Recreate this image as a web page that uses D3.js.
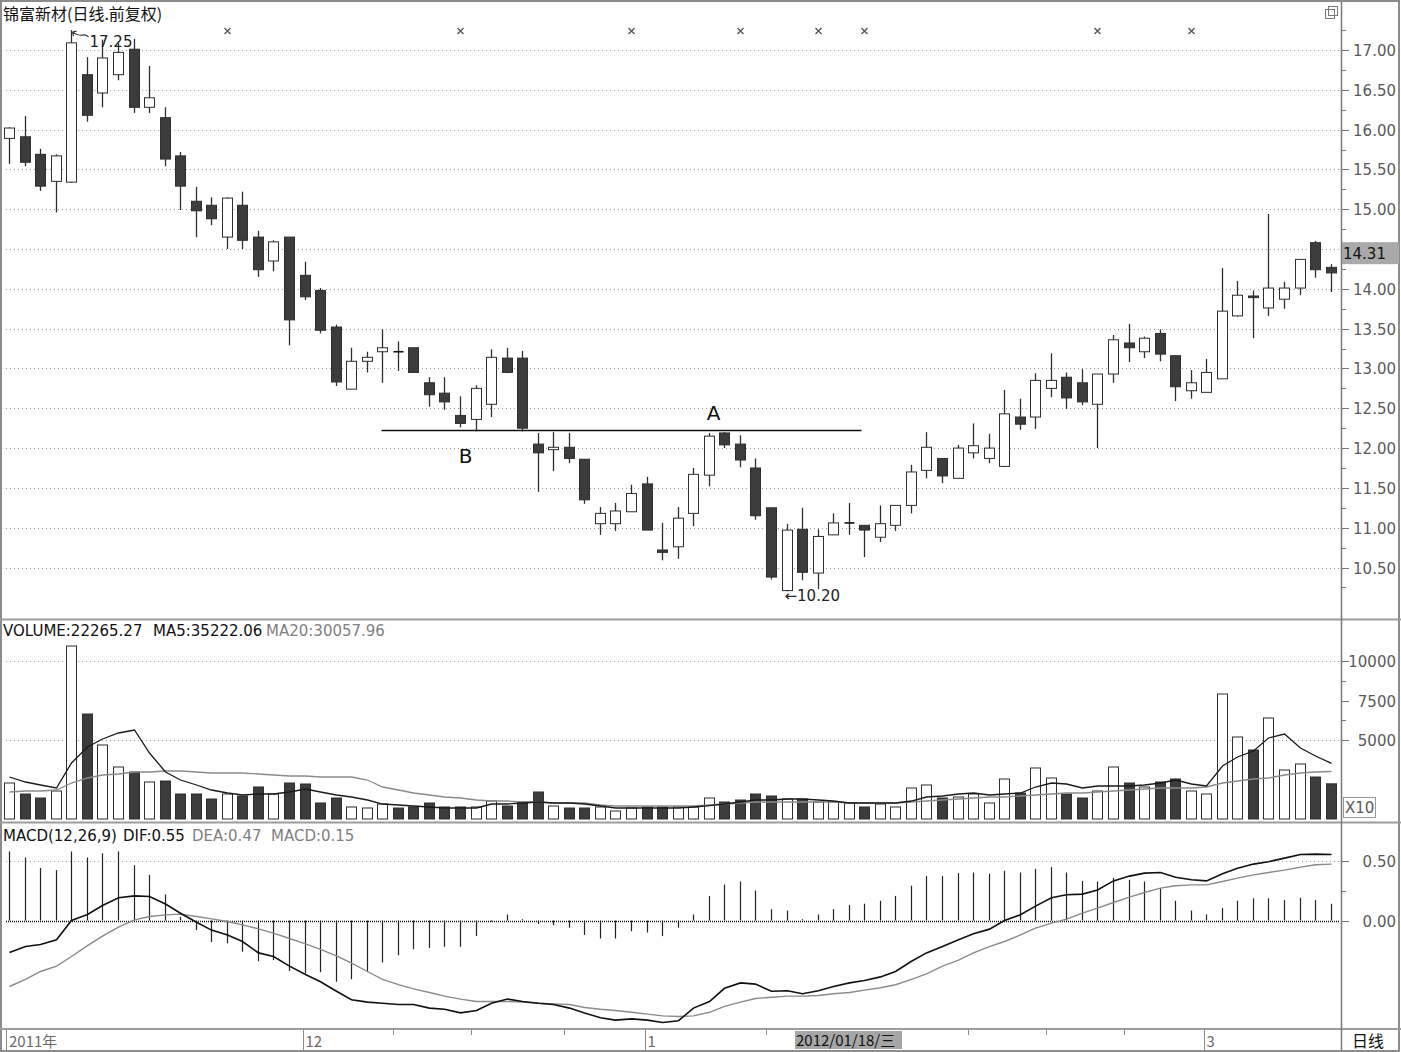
<!DOCTYPE html>
<html>
<head>
<meta charset="utf-8">
<title>锦富新材 日线</title>
<script src="https://d3js.org/d3.v7.min.js"></script>
<style>
  body { margin: 0; background: #fff; }
  svg text { font-family: "DejaVu Sans", "Liberation Sans", sans-serif; }
  svg text.cjk { font-family: "Noto Sans CJK SC", sans-serif; }
</style>
</head>
<body>
<div id="chart"></div>
<script>
// ---- data (86 trading days, Nov 2011 - Mar 2012) ----
var opens  = [15.89,15.91,15.69,15.35,15.34,16.69,16.46,16.69,17.01,16.28,16.15,15.67,15.10,15.05,14.65,15.05,14.65,14.35,14.65,14.17,
              13.98,13.52,12.74,13.09,13.21,13.21,13.26,12.82,12.69,12.41,12.36,12.55,13.13,13.13,12.05,11.98,12.01,11.86,11.05,11.05,
              11.20,11.55,10.72,10.76,11.18,11.66,12.19,12.05,11.75,11.25,10.21,10.98,10.43,10.91,11.06,11.03,10.88,11.03,11.28,11.72,
              11.87,11.62,11.94,11.87,11.77,12.39,12.39,12.75,12.89,12.82,12.55,12.93,13.32,13.21,13.44,13.16,12.72,12.70,12.87,13.66,
              13.91,13.76,13.87,14.01,14.58,14.27];
var highs  = [16.03,16.17,15.76,15.69,17.25,16.91,17.13,17.09,17.14,16.80,16.28,15.72,15.28,15.15,15.15,15.22,14.73,14.61,14.65,14.34,
              14.01,13.55,13.26,13.21,13.49,13.34,13.26,12.89,12.89,12.65,12.79,13.24,13.26,13.22,12.19,12.20,12.19,11.86,11.26,11.31,
              11.54,11.64,11.06,11.26,11.75,12.19,12.20,12.16,11.87,11.25,11.05,11.25,10.98,11.18,11.31,11.03,11.28,11.28,11.79,12.20,
              11.87,12.04,12.31,12.18,12.73,12.62,12.94,13.19,12.95,12.99,12.93,13.42,13.56,13.40,13.49,13.16,12.98,13.12,14.26,14.10,
              13.98,14.94,14.09,14.37,14.60,14.31];
var lows   = [15.57,15.54,15.23,14.96,15.33,16.10,16.28,16.62,16.21,16.21,15.54,14.99,14.65,14.80,14.50,14.50,14.15,14.22,13.29,13.86,
              13.44,12.78,12.74,12.95,12.82,12.97,12.95,12.52,12.48,12.26,12.21,12.39,12.94,12.21,11.45,11.71,11.81,11.30,10.91,10.96,
              11.20,10.97,10.59,10.61,11.02,11.52,12.00,11.76,11.10,10.35,10.20,10.34,10.23,10.91,10.91,10.63,10.82,10.96,11.18,11.62,
              11.56,11.62,11.87,11.81,11.76,12.23,12.24,12.64,12.49,12.54,12.00,12.82,13.08,13.13,13.09,12.59,12.62,12.70,12.87,13.65,
              13.38,13.66,13.75,13.92,14.14,13.96];
var closes = [16.02,15.59,15.29,15.67,17.09,16.18,16.90,16.97,16.28,16.40,15.63,15.29,14.98,14.88,15.14,14.61,14.24,14.59,13.61,13.90,
              13.48,12.83,13.09,13.14,13.26,13.21,12.95,12.67,12.58,12.31,12.75,13.14,12.95,12.25,11.94,12.01,11.87,11.35,11.18,11.21,
              11.43,10.97,10.69,11.12,11.67,12.15,12.04,11.85,11.15,10.38,10.97,10.44,10.89,11.06,11.06,10.97,11.05,11.28,11.70,12.01,
              11.65,12.00,12.03,12.00,12.43,12.30,12.85,12.85,12.63,12.58,12.93,13.36,13.26,13.38,13.18,12.77,12.82,12.95,13.72,13.92,
              13.89,14.01,14.01,14.37,14.24,14.20];

// volume in units of 10 lots (axis says X10)
var volumes = [2278,1582,1329,1772,10949,6646,4684,3291,2975,2342,2405,1582,1582,1266,1582,1456,2025,1582,2278,2215,
               1013,1329,760,696,949,696,760,1013,760,760,760,1139,823,1076,1709,823,696,696,760,506,
               696,760,760,760,760,1329,1076,1202,1582,1456,1266,1266,1076,1076,1013,760,949,760,1962,2152,
               1329,1392,1582,1013,2532,1646,3228,2595,1582,1329,1772,3291,2278,2025,2342,2532,1772,1582,7911,5190,
               4367,6392,3101,3481,2658,2226];
var volMa5  = [2658,2342,2152,1962,3544,4557,5063,5443,5633,4177,2975,2468,2152,1835,1646,1519,1582,1582,1709,1899,
               1709,1519,1392,1202,949,886,823,760,696,696,696,949,949,1013,1076,1013,1013,949,823,696,
               696,696,696,696,760,850,949,1076,1202,1202,1266,1266,1202,1139,1013,1013,1013,1013,1139,1392,
               1456,1582,1646,1519,1582,1646,2025,2278,2215,1962,2089,2089,2089,2152,2278,2468,2215,2089,3354,3924,
               4304,5127,5380,4494,3987,3522];
var volMa20 = [1709,1772,1772,1835,2278,2595,2785,2848,2975,2975,3038,3038,2975,2911,2911,2911,2848,2785,2722,2722,
               2658,2658,2658,2468,2025,1835,1646,1519,1392,1329,1202,1139,1139,1076,1076,1013,1013,1013,886,823,
               823,823,823,823,823,886,949,1013,1076,1076,1076,1076,1076,1076,1013,1013,1013,1013,1076,1139,
               1202,1266,1329,1392,1392,1456,1519,1582,1646,1646,1709,1772,1835,1899,1962,1962,1962,2025,2278,2405,
               2532,2595,2785,2911,2975,3006];

var dif = [-0.267,-0.217,-0.20,-0.16,0.00,0.05,0.125,0.19,0.205,0.20,0.137,0.06,-0.015,-0.08,-0.12,-0.175,-0.27,-0.30,-0.38,-0.45,
           -0.51,-0.59,-0.66,-0.68,-0.69,-0.70,-0.70,-0.73,-0.74,-0.77,-0.75,-0.69,-0.655,-0.675,-0.69,-0.70,-0.73,-0.77,-0.81,-0.83,
           -0.82,-0.83,-0.85,-0.835,-0.73,-0.675,-0.565,-0.52,-0.53,-0.59,-0.585,-0.61,-0.585,-0.55,-0.52,-0.50,-0.47,-0.425,-0.34,-0.27,
           -0.217,-0.16,-0.11,-0.072,0.00,0.048,0.12,0.19,0.215,0.22,0.255,0.33,0.37,0.395,0.40,0.36,0.34,0.33,0.39,0.435,
           0.47,0.49,0.52,0.55,0.553,0.55];
var dea = [-0.55,-0.49,-0.425,-0.38,-0.30,-0.21,-0.13,-0.055,0.005,0.033,0.047,0.053,0.033,0.014,-0.008,-0.036,-0.07,-0.105,-0.15,-0.195,
           -0.24,-0.295,-0.355,-0.425,-0.49,-0.535,-0.57,-0.60,-0.63,-0.655,-0.675,-0.675,-0.675,-0.68,-0.69,-0.695,-0.70,-0.725,-0.74,-0.75,
           -0.765,-0.78,-0.795,-0.80,-0.795,-0.765,-0.715,-0.68,-0.65,-0.64,-0.63,-0.63,-0.625,-0.61,-0.60,-0.58,-0.56,-0.535,-0.49,-0.445,
           -0.38,-0.33,-0.27,-0.217,-0.175,-0.12,-0.063,-0.022,0.012,0.062,0.103,0.15,0.195,0.233,0.27,0.29,0.297,0.297,0.325,0.353,
           0.38,0.40,0.42,0.445,0.465,0.47];
var macdBar = [0.575,0.525,0.437,0.42,0.575,0.525,0.56,0.575,0.46,0.38,0.217,0.03,-0.08,-0.18,-0.19,-0.26,-0.34,-0.33,-0.42,-0.44,
               -0.43,-0.51,-0.49,-0.43,-0.35,-0.29,-0.24,-0.23,-0.22,-0.22,-0.13,-0.01,0.05,0.01,-0.03,-0.04,-0.06,-0.12,-0.15,-0.15,
               -0.09,-0.10,-0.13,-0.06,0.05,0.205,0.30,0.325,0.25,0.095,0.083,0.01,0.05,0.095,0.13,0.14,0.165,0.205,0.29,0.37,
               0.37,0.395,0.40,0.39,0.415,0.40,0.43,0.445,0.40,0.33,0.325,0.355,0.34,0.325,0.27,0.165,0.083,0.05,0.105,0.165,
               0.185,0.185,0.17,0.19,0.17,0.14];

var priceTicks = [10.5,11,11.5,12,12.5,13,13.5,14,14.5,15,15.5,16,16.5,17];
var volTicks = [5000,7500,10000];
var volGrid = [5000,10000];
var macdTicks = [0,0.5];
var monthIdx = [0,19,41,77];
var monthText = ["2011年","12","1","3"];
var weekIdx = [25,30,36,49,62,67,72];
var infoIdx = [14,29,40,47,52,55,70,76];
var lineLevel = 12.23, lineFrom = 24, lineTo = 55;
var cursorIdx = 51, cursorText = "2012/01/18/三";
var lastPrice = 14.31;

// ---- layout ----
var W = 1401, H = 1052;
var plotL = 2, plotR = 1340;
var svg = d3.select("#chart").append("svg").attr("width", W).attr("height", H);

var x = d3.scaleBand().domain(d3.range(opens.length)).range([plotL, 1339])
    .paddingInner(0.28).paddingOuter(0.14);
function bx(i) { return Math.round(x(i)) + 0.5; }
function cx(i) { return Math.round(x(i)) + 5.5; }

var yP = d3.scaleLinear().domain([10.5, 17]).range([567.5, 50]);
var yV = d3.scaleLinear().domain([0, 10000]).range([819, 661]);
var yM = d3.scaleLinear().domain([0, 0.5]).range([920.5, 860.5]);

var dark = "#3c3c3c", edge = "#2e2e2e", gridC = "#9a9a9a", axisTxt = "#5a5a5a";

// frame + panel separators
svg.append("rect").attr("x", 1).attr("y", 1).attr("width", W - 3).attr("height", H - 2)
    .attr("fill", "none").attr("stroke", "#8c8c8c").attr("stroke-width", 2);
[619.5, 822.5, 1029].forEach(function (yy) {
  svg.append("line").attr("x1", 0).attr("x2", W).attr("y1", yy).attr("y2", yy)
    .attr("stroke", "#9c9c9c").attr("stroke-width", 2);
});
svg.append("line").attr("x1", 1341.5).attr("x2", 1341.5).attr("y1", 2).attr("y2", 1050)
    .attr("stroke", "#7a7a7a").attr("stroke-width", 1.5);

// ---- main price panel ----
var gMain = svg.append("g");
gMain.selectAll("line.grid").data(priceTicks).enter().append("line")
  .attr("x1", plotL + 4).attr("x2", plotR).attr("y1", function (d) { return Math.round(yP(d)) + 0.5; })
  .attr("y2", function (d) { return Math.round(yP(d)) + 0.5; })
  .attr("stroke", gridC).attr("stroke-dasharray", "1,3");

// right axis
var minorP = d3.range(10.25, 17.3, 0.5);
gMain.selectAll("line.mt").data(minorP).enter().append("line")
  .attr("x1", 1342).attr("x2", 1346).attr("y1", function (d) { return Math.round(yP(d)) + 0.5; })
  .attr("y2", function (d) { return Math.round(yP(d)) + 0.5; }).attr("stroke", "#777");
gMain.selectAll("line.tk").data(priceTicks).enter().append("line")
  .attr("x1", 1342).attr("x2", 1349).attr("y1", function (d) { return Math.round(yP(d)) + 0.5; })
  .attr("y2", function (d) { return Math.round(yP(d)) + 0.5; }).attr("stroke", "#777");
// the last-price box hides the tick label it sits on
var boxTop = yP(lastPrice) - 22, boxBot = yP(lastPrice);
gMain.selectAll("text.tk")
  .data(priceTicks.filter(function (d) { var yy = yP(d); return yy < boxTop - 6 || yy > boxBot + 6; }))
  .enter().append("text")
  .attr("x", 1396).attr("y", function (d) { return yP(d) + 6; }).attr("text-anchor", "end")
  .attr("font-size", 15).attr("fill", axisTxt).text(function (d) { return d.toFixed(2); });

// last price box
gMain.append("rect").attr("x", 1342).attr("y", boxTop).attr("width", 57).attr("height", 22)
  .attr("fill", "#a9a9a9");
gMain.append("text").attr("x", 1343).attr("y", boxBot - 5).attr("font-size", 15)
  .attr("fill", "#111").text(lastPrice.toFixed(2));

// candles
var idx = d3.range(opens.length);
var cg = gMain.append("g");
cg.selectAll("line.wick").data(idx).enter().append("line")
  .attr("x1", cx).attr("x2", cx)
  .attr("y1", function (i) { return yP(highs[i]); })
  .attr("y2", function (i) { return yP(lows[i]); })
  .attr("stroke", edge).attr("stroke-width", 1.3);
cg.selectAll("rect.body").data(idx.filter(function (i) { return opens[i] !== closes[i]; })).enter().append("rect")
  .attr("x", bx)
  .attr("y", function (i) { return yP(Math.max(opens[i], closes[i])); })
  .attr("width", 10)
  .attr("height", function (i) { return Math.max(1, Math.abs(yP(opens[i]) - yP(closes[i]))); })
  .attr("fill", function (i) { return closes[i] > opens[i] ? "#fff" : dark; })
  .attr("stroke", edge).attr("stroke-width", 1);
cg.selectAll("line.doji").data(idx.filter(function (i) { return opens[i] === closes[i]; })).enter().append("line")
  .attr("x1", bx).attr("x2", function (i) { return bx(i) + 10; })
  .attr("y1", function (i) { return yP(opens[i]); }).attr("y2", function (i) { return yP(opens[i]); })
  .attr("stroke", "#111").attr("stroke-width", 1.6);

// info markers
gMain.selectAll("path.info").data(infoIdx).enter().append("path")
  .attr("d", function (i) { var c = cx(i), y = 31; return "M" + (c - 3) + "," + (y - 3) + "L" + (c + 3) + "," + (y + 3) + "M" + (c + 3) + "," + (y - 3) + "L" + (c - 3) + "," + (y + 3); })
  .attr("stroke", "#555").attr("stroke-width", 1.4);

// annotations: neckline, A, B
gMain.append("line").attr("x1", cx(lineFrom) - 1).attr("x2", cx(lineTo) - 3)
  .attr("y1", Math.round(yP(lineLevel)) + 0.5).attr("y2", Math.round(yP(lineLevel)) + 0.5)
  .attr("stroke", "#111").attr("stroke-width", 1.4);
gMain.append("text").attr("x", cx(45) + 4).attr("y", yP(lineLevel) - 10).attr("text-anchor", "middle")
  .attr("font-size", 20).attr("fill", "#111").text("A");
gMain.append("text").attr("x", cx(29) + 5).attr("y", yP(lineLevel) + 33).attr("text-anchor", "middle")
  .attr("font-size", 20).attr("fill", "#111").text("B");

// max / min labels
var iMax = d3.maxIndex(highs), iMin = d3.minIndex(lows);
gMain.append("path")
  .attr("d", "M" + (cx(iMax) + 1) + "," + (yP(highs[iMax]) + 2) + " l4,-1 M" + (cx(iMax) + 1) + "," + (yP(highs[iMax]) + 2) + " l1,4 M" + (cx(iMax) + 1) + "," + (yP(highs[iMax]) + 2) + " q6,4 10,3 q4,-1 6,2")
  .attr("fill", "none").attr("stroke", "#333").attr("stroke-width", 1.1);
gMain.append("text").attr("x", cx(iMax) + 18).attr("y", yP(highs[iMax]) + 17).attr("font-size", 15)
  .attr("fill", "#222").text(highs[iMax].toFixed(2));
gMain.append("text").attr("x", cx(iMin) - 3).attr("y", yP(lows[iMin]) + 10).attr("font-size", 15)
  .attr("fill", "#222").text("←" + lows[iMin].toFixed(2));

// title + restore icon
svg.append("text").attr("class", "cjk").attr("x", 3).attr("y", 20).attr("font-size", 16)
  .attr("fill", "#111").text("锦富新材(日线.前复权)");
svg.append("rect").attr("x", 1325.5).attr("y", 9.5).attr("width", 9).attr("height", 9).attr("fill", "none").attr("stroke", "#777");
svg.append("rect").attr("x", 1328.5).attr("y", 6.5).attr("width", 9).attr("height", 9).attr("fill", "none").attr("stroke", "#777");

// ---- volume panel ----
var gVol = svg.append("g");
gVol.selectAll("line.grid").data(volGrid).enter().append("line")
  .attr("x1", plotL + 4).attr("x2", plotR).attr("y1", function (d) { return Math.round(yV(d)) + 0.5; })
  .attr("y2", function (d) { return Math.round(yV(d)) + 0.5; })
  .attr("stroke", gridC).attr("stroke-dasharray", "1,3");
gVol.selectAll("rect.vol").data(idx).enter().append("rect")
  .attr("x", bx).attr("y", function (i) { return yV(volumes[i]); })
  .attr("width", 10).attr("height", function (i) { return yV(0) - yV(volumes[i]); })
  .attr("fill", function (i) { return closes[i] > opens[i] || (closes[i] === opens[i] && i > 0 && closes[i] >= closes[i - 1]) ? "#fff" : dark; })
  .attr("stroke", edge).attr("stroke-width", 1);
var vLine = function (arr) { return d3.line().x(function (i) { return cx(i); }).y(function (i) { return yV(arr[i]); })(idx); };
gVol.append("path").attr("d", vLine(volMa20)).attr("fill", "none").attr("stroke", "#8a8a8a").attr("stroke-width", 1.3);
gVol.append("path").attr("d", vLine(volMa5)).attr("fill", "none").attr("stroke", "#1a1a1a").attr("stroke-width", 1.3);
gVol.selectAll("line.mt").data([6250, 8750]).enter().append("line")
  .attr("x1", 1342).attr("x2", 1346).attr("y1", function (d) { return Math.round(yV(d)) + 0.5; })
  .attr("y2", function (d) { return Math.round(yV(d)) + 0.5; }).attr("stroke", "#777");
gVol.selectAll("line.tk").data(volTicks).enter().append("line")
  .attr("x1", 1342).attr("x2", 1349).attr("y1", function (d) { return Math.round(yV(d)) + 0.5; })
  .attr("y2", function (d) { return Math.round(yV(d)) + 0.5; }).attr("stroke", "#777");
gVol.selectAll("text.tk").data(volTicks).enter().append("text")
  .attr("x", 1396).attr("y", function (d) { return yV(d) + 6; }).attr("text-anchor", "end")
  .attr("font-size", 15).attr("fill", axisTxt).text(function (d) { return d; });
gVol.append("rect").attr("x", 1343.5).attr("y", 797.5).attr("width", 32).attr("height", 20)
  .attr("fill", "#fff").attr("stroke", "#999");
gVol.append("text").attr("x", 1345).attr("y", 813).attr("font-size", 15).attr("fill", axisTxt).text("X10");
var vt = gVol.append("text").attr("y", 636).attr("font-size", 15);
vt.append("tspan").attr("x", 3).attr("fill", "#111").text("VOLUME:22265.27");
vt.append("tspan").attr("x", 153).attr("fill", "#111").text("MA5:35222.06");
vt.append("tspan").attr("x", 266).attr("fill", "#808080").text("MA20:30057.96");

// ---- MACD panel ----
var gM = svg.append("g");
gM.append("line").attr("x1", plotL + 4).attr("x2", plotR).attr("y1", Math.round(yM(0.5)) + 0.5).attr("y2", Math.round(yM(0.5)) + 0.5)
  .attr("stroke", gridC).attr("stroke-dasharray", "1,3");
gM.append("line").attr("x1", plotL + 4).attr("x2", plotR).attr("y1", Math.round(yM(0)) + 0.5).attr("y2", Math.round(yM(0)) + 0.5)
  .attr("stroke", "#111").attr("stroke-width", 1.5).attr("stroke-dasharray", "1,1");
gM.selectAll("line.bar").data(idx).enter().append("line")
  .attr("x1", cx).attr("x2", cx)
  .attr("y1", yM(0)).attr("y2", function (i) { return yM(macdBar[i]); })
  .attr("stroke", "#222").attr("stroke-width", 1.2);
var mLine = function (arr) { return d3.line().x(function (i) { return cx(i); }).y(function (i) { return yM(arr[i]); })(idx); };
gM.append("path").attr("d", mLine(dea)).attr("fill", "none").attr("stroke", "#8a8a8a").attr("stroke-width", 1.4);
gM.append("path").attr("d", mLine(dif)).attr("fill", "none").attr("stroke", "#111").attr("stroke-width", 1.6);
gM.append("line").attr("x1", 1342).attr("x2", 1346).attr("y1", Math.round(yM(0.25)) + 0.5).attr("y2", Math.round(yM(0.25)) + 0.5).attr("stroke", "#777");
gM.selectAll("line.tk").data(macdTicks).enter().append("line")
  .attr("x1", 1342).attr("x2", 1349).attr("y1", function (d) { return Math.round(yM(d)) + 0.5; })
  .attr("y2", function (d) { return Math.round(yM(d)) + 0.5; }).attr("stroke", "#777");
gM.selectAll("text.tk").data(macdTicks).enter().append("text")
  .attr("x", 1396).attr("y", function (d) { return yM(d) + 6; }).attr("text-anchor", "end")
  .attr("font-size", 15).attr("fill", axisTxt).text(function (d) { return d.toFixed(2); });
var mt = gM.append("text").attr("y", 841).attr("font-size", 15);
mt.append("tspan").attr("x", 3).attr("fill", "#111").text("MACD(12,26,9)");
mt.append("tspan").attr("x", 123).attr("fill", "#111").text("DIF:0.55");
mt.append("tspan").attr("x", 192).attr("fill", "#808080").text("DEA:0.47");
mt.append("tspan").attr("x", 271).attr("fill", "#808080").text("MACD:0.15");

// ---- time axis ----
var gT = svg.append("g");
gT.selectAll("line.mon").data(monthIdx).enter().append("line")
  .attr("x1", function (i) { return i === 0 ? 6.5 : cx(i) - 2; }).attr("x2", function (i) { return i === 0 ? 6.5 : cx(i) - 2; })
  .attr("y1", 1030).attr("y2", 1050).attr("stroke", "#8a8a8a");
gT.selectAll("line.wk").data(weekIdx).enter().append("line")
  .attr("x1", function (i) { return Math.round(x(i)) + 0.5; }).attr("x2", function (i) { return Math.round(x(i)) + 0.5; })
  .attr("y1", 1030).attr("y2", 1035).attr("stroke", "#8a8a8a");
gT.selectAll("text.mon").data(monthIdx).enter().append("text")
  .attr("class", "cjk")
  .attr("x", function (i) { return i === 0 ? 9 : cx(i); }).attr("y", 1047)
  .attr("font-size", 15).attr("fill", "#6a6a6a")
  .text(function (i, k) { return monthText[k]; });
gT.append("rect").attr("x", Math.round(x(cursorIdx)) - 2).attr("y", 1031).attr("width", 107).attr("height", 18)
  .attr("fill", "#a6a6a6");
gT.append("text").attr("class", "cjk").attr("x", Math.round(x(cursorIdx)) - 1).attr("y", 1046)
  .attr("font-size", 15).attr("fill", "#111").text(cursorText);
gT.append("text").attr("class", "cjk").attr("x", 1352).attr("y", 1047).attr("font-size", 16)
  .attr("fill", "#111").text("日线");
</script>
</body>
</html>
